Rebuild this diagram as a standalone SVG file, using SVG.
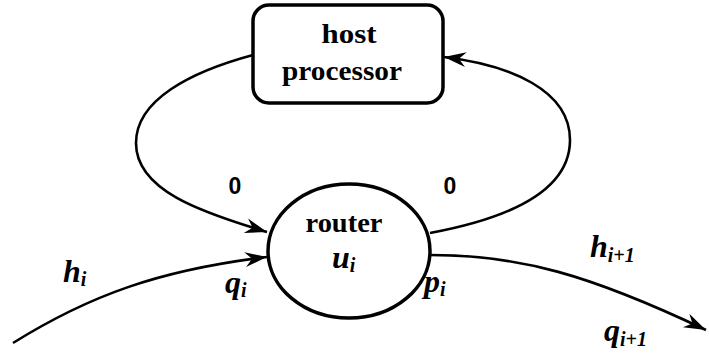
<svg xmlns="http://www.w3.org/2000/svg" width="709" height="358" viewBox="0 0 709 358">
  <style>
    .node { fill: #fff; stroke: #000; stroke-width: 3.5; }
    .edge { fill: none; stroke: #000; stroke-width: 2.6; }
    .word { font-family: "Liberation Serif", "Times New Roman", serif; font-weight: bold; font-size: 28px; fill: #000; text-anchor: middle; }
    .math { font-family: "Liberation Serif", "Times New Roman", serif; font-weight: bold; font-style: italic; font-size: 32px; fill: #000; }
    .sub { font-size: 20px; }
    .zero { font-family: "Liberation Sans", Arial, sans-serif; font-weight: bold; font-size: 23px; fill: #000; text-anchor: middle; }
  </style>
  <defs>
    <marker id="arrow" markerUnits="userSpaceOnUse" viewBox="-23 -9 24 18" markerWidth="24" markerHeight="18" refX="0" refY="0" orient="auto" overflow="visible">
      <path d="M0,0 L-22,-7.5 L-15,0 L-22,7.5 Z" fill="#000"/>
    </marker>
  </defs>

  <g id="connectors">
    <!-- host processor back to router input -->
    <path class="edge" d="M253,55 C190,72 136,100 136,143 C136,190 200,212 267,232" marker-end="url(#arrow)"/>
    <!-- router output up to host processor -->
    <path class="edge" d="M430,233 C500,220 570,195 570,140 C570,90 510,65 444,57" marker-end="url(#arrow)"/>
    <!-- incoming link h_i -->
    <path class="edge" d="M13,343 C90,295 160,270 267,257" marker-end="url(#arrow)"/>
    <!-- outgoing link h_{i+1} -->
    <path class="edge" d="M430,255 C520,255 590,275 706,330" marker-end="url(#arrow)"/>
  </g>

  <g id="host">
    <rect class="node" x="253" y="5" width="190" height="98" rx="16" ry="16"/>
    <text class="word" x="349" y="43" textLength="55" lengthAdjust="spacingAndGlyphs">host</text>
    <text class="word" x="342" y="80" textLength="120" lengthAdjust="spacingAndGlyphs">processor</text>
  </g>

  <g id="router">
    <ellipse class="node" cx="349" cy="251" rx="81" ry="67"/>
    <text class="word" x="344" y="232" textLength="77" lengthAdjust="spacingAndGlyphs">router</text>
    <text class="math" x="332" y="268">u<tspan class="sub" dy="4">i</tspan></text>
  </g>

  <g id="labels">
    <text class="zero" x="235" y="194">0</text>
    <text class="zero" x="450" y="194">0</text>
    <text class="math" x="63" y="282">h<tspan class="sub" dy="4">i</tspan></text>
    <text class="math" x="225" y="293">q<tspan class="sub" dy="4">i</tspan></text>
    <text class="math" x="424" y="292">p<tspan class="sub" dy="4">i</tspan></text>
    <text class="math" x="590" y="257">h<tspan class="sub" dy="5">i+1</tspan></text>
    <text class="math" x="604" y="341">q<tspan class="sub" dy="5">i+1</tspan></text>
  </g>
</svg>
